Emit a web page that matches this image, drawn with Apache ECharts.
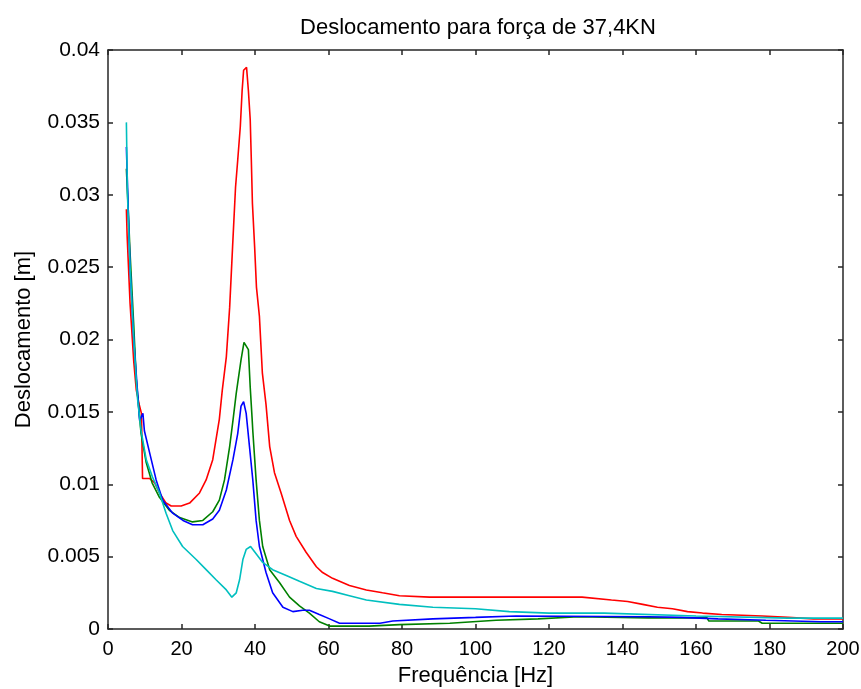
<!DOCTYPE html>
<html>
<head>
<meta charset="utf-8">
<script src="https://cdn.jsdelivr.net/npm/echarts@6/dist/echarts.min.js"></script>
<style>html,body{margin:0;padding:0;background:#fff;}#c{width:861px;height:689px;}</style>
</head>
<body>
<div id="c"></div>
<script>
const titleText = 'Deslocamento para força de 37,4KN';
const xName = 'Frequência [Hz]';
const yName = 'Deslocamento [m]';
const xTicks = [0, 20, 40, 60, 80, 100, 120, 140, 160, 180, 200];
const yTicks = [0, 0.005, 0.01, 0.015, 0.02, 0.025, 0.03, 0.035, 0.04];

const redFreq = [5,5.2,6,7,7.7,8.5,9.1,9.4,11.3,12.7,14,15.8,17.2,19.9,22.2,24.9,26.7,28.5,30.3,31.1,32.2,33.1,33.9,34.7,35.3,36,36.5,36.9,37.7,38.2,38.7,39,39.3,39.9,40.4,41.2,42,43,44,45.3,47.1,49.4,51.2,53.9,56.7,58.4,61.1,65.7,70.3,74.7,79.3,87.5,129,137,141.4,145.5,149.5,153.6,157.7,161.8,167,178,185,192,200];
const redVal = [0.0290,0.0272,0.0225,0.0185,0.0165,0.0155,0.0149,0.0104,0.0104,0.0101,0.0094,0.0087,0.0085,0.0085,0.0087,0.0094,0.0103,0.0117,0.0145,0.0165,0.0188,0.0222,0.0264,0.0305,0.0324,0.0347,0.0372,0.0386,0.0388,0.0372,0.0352,0.0324,0.0294,0.0264,0.0236,0.0216,0.0177,0.0155,0.0126,0.0108,0.0094,0.0075,0.0064,0.0053,0.0043,0.0039,0.0035,0.0030,0.0027,0.0025,0.0023,0.0022,0.0022,0.0020,0.0019,0.0017,0.0015,0.0014,0.0012,0.0011,0.0010,0.0009,0.0008,0.0007,0.0007];

const greenFreq = [5,5.5,6,7,7.7,9,10.4,12,14,16.7,19.5,23,25.8,28.5,30.3,31.7,33.1,34,34.9,35.3,36.2,37,38.2,38.7,39.2,39.4,40.3,41.2,42.1,44,46.7,49.4,52.1,54.8,57.5,60.3,71,79.3,93,105.6,117,128,147,163,163.5,177,178,200];
const greenVal = [0.0318,0.0290,0.0260,0.0210,0.0172,0.0135,0.0115,0.0101,0.0091,0.0082,0.0077,0.0074,0.0075,0.0081,0.0089,0.0103,0.0126,0.0144,0.0163,0.0170,0.0186,0.0198,0.0193,0.0167,0.0146,0.0137,0.0103,0.0075,0.0057,0.0041,0.0032,0.0022,0.0016,0.0011,0.0005,0.0002,0.0002,0.0003,0.0004,0.0006,0.0007,0.00085,0.00077,0.00077,0.00055,0.00055,0.0004,0.0004];

const blueFreq = [5,5.5,6,7,8,8.6,9.5,9.9,11.3,13.1,14.9,17.6,20.4,23,25.8,28.5,30.3,32.2,34,35.3,36.2,36.9,37.6,38.5,39.4,40.3,41.2,43,44.8,47.6,50.3,53,54.8,57.5,60.3,63,74,77.5,88.4,100,111,147,156,166,179,194,200];
const blueVal = [0.0333,0.0290,0.0250,0.0200,0.0165,0.0144,0.0149,0.0137,0.0122,0.0103,0.0089,0.0080,0.0075,0.0072,0.0072,0.0076,0.0082,0.0096,0.0117,0.0135,0.0154,0.0157,0.0149,0.0126,0.0103,0.0075,0.0057,0.0039,0.0025,0.0015,0.0012,0.0013,0.0013,0.0010,0.0007,0.0004,0.0004,0.00055,0.0007,0.0008,0.0009,0.00085,0.0008,0.0007,0.0006,0.0005,0.0005];

const cyanFreq = [5,5.3,6,7,7.7,8,9,10.4,12.1,14,15.8,17.6,20.3,24,26.7,29.4,32.2,33.7,34.9,35.8,36.7,37.6,38.8,40.3,42.1,44.8,48.5,52.1,56.7,61.1,65.7,70.3,79.3,88.4,100,109.2,120,135,160,185,200];
const cyanVal = [0.0350,0.0300,0.0250,0.0200,0.0172,0.0160,0.0137,0.0117,0.0105,0.0094,0.0080,0.0068,0.0057,0.0048,0.0041,0.0034,0.0027,0.0022,0.0025,0.0034,0.0048,0.0055,0.0057,0.0052,0.0046,0.0041,0.0037,0.0033,0.0028,0.0026,0.0023,0.0020,0.0017,0.0015,0.0014,0.0012,0.0011,0.0011,0.0009,0.00075,0.00075];

function pairs(xs, ys) { return xs.map((x, i) => [x, ys[i]]); }

const FONT = '"Liberation Sans", Arial, sans-serif';
const axisCol = '#262626';
const chart = echarts.init(document.getElementById('c'), null, {renderer: 'canvas'});

const xBase = {
  type: 'value', min: xTicks[0], max: xTicks[xTicks.length - 1], interval: xTicks[1] - xTicks[0],
  splitLine: {show: false},
  axisLine: {show: true, onZero: false, lineStyle: {color: axisCol, width: 1.5}},
  axisTick: {show: true, inside: true, length: 5, lineStyle: {color: axisCol, width: 1.5}}
};
const yBase = {
  type: 'value', min: yTicks[0], max: yTicks[yTicks.length - 1], interval: yTicks[1] - yTicks[0],
  splitLine: {show: false},
  axisLine: {show: true, onZero: false, lineStyle: {color: axisCol, width: 1.5}},
  axisTick: {show: true, inside: true, length: 5, lineStyle: {color: axisCol, width: 1.5}}
};

function line(name, xs, ys, color) {
  return {
    name: name, type: 'line', xAxisIndex: 0, yAxisIndex: 0,
    data: pairs(xs, ys), showSymbol: false, symbol: 'none', animation: false,
    lineStyle: {color: color, width: 1.6}, itemStyle: {color: color}
  };
}

chart.setOption({
  backgroundColor: '#fff',
  animation: false,
  title: {
    text: titleText, left: 473, top: 12, textAlign: 'center',
    textStyle: {fontFamily: FONT, fontSize: 22, fontWeight: 'normal', color: '#000'}
  },
  grid: {left: 108, right: 18, top: 50, bottom: 60, containLabel: false, outerBoundsMode: 'none'},
  xAxis: [
    Object.assign({}, xBase, {
      position: 'bottom', name: xName, nameLocation: 'middle', nameGap: 36,
      nameTextStyle: {fontFamily: FONT, fontSize: 22, color: '#000'},
      axisLabel: {show: true, margin: 10, fontFamily: FONT, fontSize: 20, color: '#000'}
    }),
    Object.assign({}, xBase, {position: 'top', axisLabel: {show: false}})
  ],
  yAxis: [
    Object.assign({}, yBase, {
      position: 'left', name: yName, nameLocation: 'middle', nameGap: 73, nameRotate: 90,
      nameTextStyle: {fontFamily: FONT, fontSize: 22, color: '#000'},
      axisLabel: {show: true, margin: 8, fontFamily: FONT, fontSize: 21, color: '#000'}
    }),
    Object.assign({}, yBase, {position: 'right', axisLabel: {show: false}})
  ],
  series: [
    line('A', redFreq, redVal, '#ff0000'),
    line('B', greenFreq, greenVal, '#008000'),
    line('C', blueFreq, blueVal, '#0000ff'),
    line('D', cyanFreq, cyanVal, '#00bfbf')
  ]
});
</script>
</body>
</html>
